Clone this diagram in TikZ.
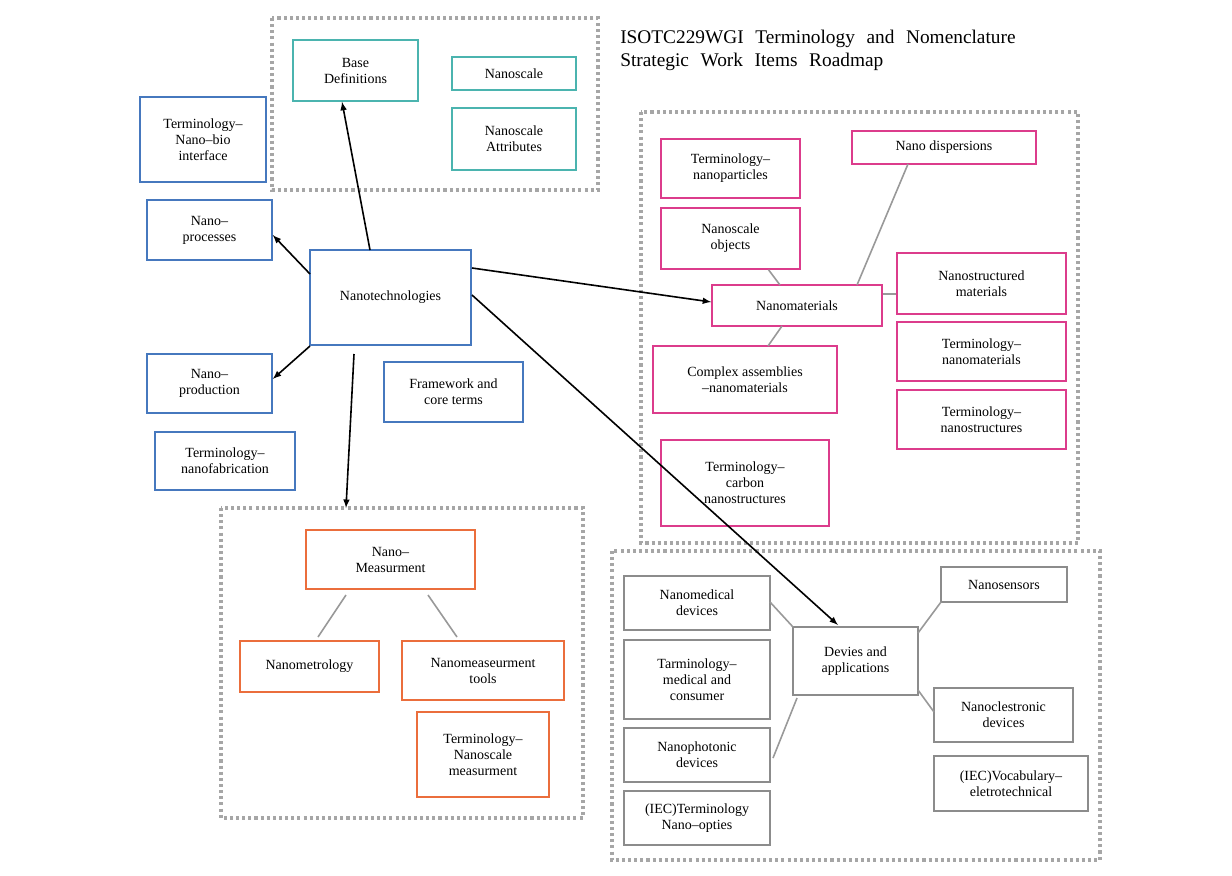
\documentclass[tikz,border=0pt]{standalone}
\usepackage{fontspec}
\setmainfont{Liberation Serif}
\newcommand{\widesp}{\spaceskip 0.6em\relax}
\begin{document}
\begin{tikzpicture}[x=0.75pt,y=-0.75pt,
 bx/.style={draw,line width=1.1pt,fill=white,align=center,inner sep=1pt,font=\fontsize{10.5}{12}\selectfont},
 teal/.style={bx,draw={rgb,255:red,75;green,180;blue,175}},
 blu/.style={bx,draw={rgb,255:red,70;green,120;blue,190}},
 pnk/.style={bx,draw={rgb,255:red,220;green,60;blue,140}},
 org/.style={bx,draw={rgb,255:red,235;green,110;blue,60}},
 gry/.style={bx,draw={rgb,255:red,140;green,140;blue,140}},
 grp/.style={draw=gray!70,line width=2.3pt,dash pattern=on 2.3pt off 2.3pt},
 ln/.style={draw=gray!80,line width=1.2pt},
 ar/.style={draw,line width=1.2pt,-latex}]
\useasboundingbox (0,0) rectangle (1232,875);
\newcommand{\bxn}[6]{\node[#1,minimum width={(#4-#2)*0.75pt},minimum height={(#5-#3)*0.75pt}] (#6) at ({(#2+#4)/2},{(#3+#5)/2})}
% groups
\draw[grp] (272,18) rectangle (598,190);
\draw[grp] (641,112) rectangle (1078,543);
\draw[grp] (221,508) rectangle (583,818);
\draw[grp] (612,551) rectangle (1100,860);
\node[anchor=north west,align=left,font=\fontsize{14.5}{17}\selectfont\widesp,inner sep=0pt] (title) at (620,30) {ISOTC229WGI Terminology and Nomenclature\\Strategic Work Items Roadmap};
% teal
\bxn{teal}{293}{40}{418}{101}{base} {Base\\Definitions};
\bxn{teal}{452}{57}{576}{90}{ns} {Nanoscale};
\bxn{teal}{452}{108}{576}{170}{nsa} {Nanoscale\\Attributes};
% blue
\bxn{blu}{140}{97}{266}{182}{bio} {Terminology--\\Nano--bio\\interface};
\bxn{blu}{147}{200}{272}{260}{proc} {Nano--\\processes};
\bxn{blu}{310}{250}{471}{345}{nt} {Nanotechnologies};
\bxn{blu}{147}{354}{272}{413}{prod} {Nano--\\production};
\bxn{blu}{384}{362}{523}{422}{fw} {Framework and\\core terms};
\bxn{blu}{155}{432}{295}{490}{fab} {Terminology--\\nanofabrication};
% pink
\bxn{pnk}{661}{139}{800}{198}{np} {Terminology--\\nanoparticles};
\bxn{pnk}{852}{131}{1036}{164}{nd} {Nano dispersions};
\bxn{pnk}{661}{208}{800}{269}{no} {Nanoscale\\objects};
\bxn{pnk}{712}{285}{882}{326}{nm} {Nanomaterials};
\bxn{pnk}{897}{253}{1066}{314}{nsm} {Nanostructured\\materials};
\bxn{pnk}{653}{346}{837}{413}{ca} {Complex assemblies\\--nanomaterials};
\bxn{pnk}{897}{322}{1066}{381}{tnm} {Terminology--\\nanomaterials};
\bxn{pnk}{897}{390}{1066}{449}{tns} {Terminology--\\nanostructures};
\bxn{pnk}{661}{440}{829}{526}{cn} {Terminology--\\carbon\\nanostructures};
\draw[ln] (no.south)++(38,0) -- (780,285);
\draw[ln] (908,164) -- (857,285);
\draw[ln] (nm.east |- 0,294) -- (nsm.west |- 0,294);
\draw[ln] (768,346) -- (782,326);
% orange
\bxn{org}{306}{530}{475}{589}{meas} {Nano--\\Measurment};
\bxn{org}{240}{641}{379}{692}{met} {Nanometrology};
\bxn{org}{402}{641}{564}{700}{tools} {Nanomeaseurment\\tools};
\bxn{org}{417}{712}{549}{797}{tnsm} {Terminology--\\Nanoscale\\measurment};
\draw[ln] (346,595) -- (318,637);
\draw[ln] (428,595) -- (457,637);
% grey
\bxn{gry}{624}{576}{770}{630}{med} {Nanomedical\\devices};
\bxn{gry}{624}{640}{770}{719}{tmc} {Tarminology--\\medical and\\consumer};
\bxn{gry}{624}{728}{770}{782}{pho} {Nanophotonic\\devices};
\bxn{gry}{624}{791}{770}{845}{opt} {(IEC)Terminology\\Nano--opties};
\bxn{gry}{793}{627}{918}{695}{dev} {Devies and\\applications};
\bxn{gry}{941}{567}{1067}{602}{sen} {Nanosensors};
\bxn{gry}{934}{688}{1073}{742}{ele} {Nanoclestronic\\devices};
\bxn{gry}{934}{756}{1088}{811}{voc} {(IEC)Vocabulary--\\eletrotechnical};
\draw[ln] (770,602) -- (793,627);
\draw[ln] (773,758) -- (797,698);
\draw[ln] (918,633) -- (941,602);
\draw[ln] (918,690) -- (934,712);
% arrows
\draw[ar] (370,250) -- (base.south -| 342,0);
\draw[ar] (310,274) -- (proc.east |- 0,235);
\draw[ar] (310,346) -- (prod.east |- 0,379);
\draw[ar] (354,354) -- (346,508);
\draw[ar] (472,268) -- (nm.west |- 0,302);
\draw[ar] (472,295) -- (838,625);
\end{tikzpicture}
\end{document}
